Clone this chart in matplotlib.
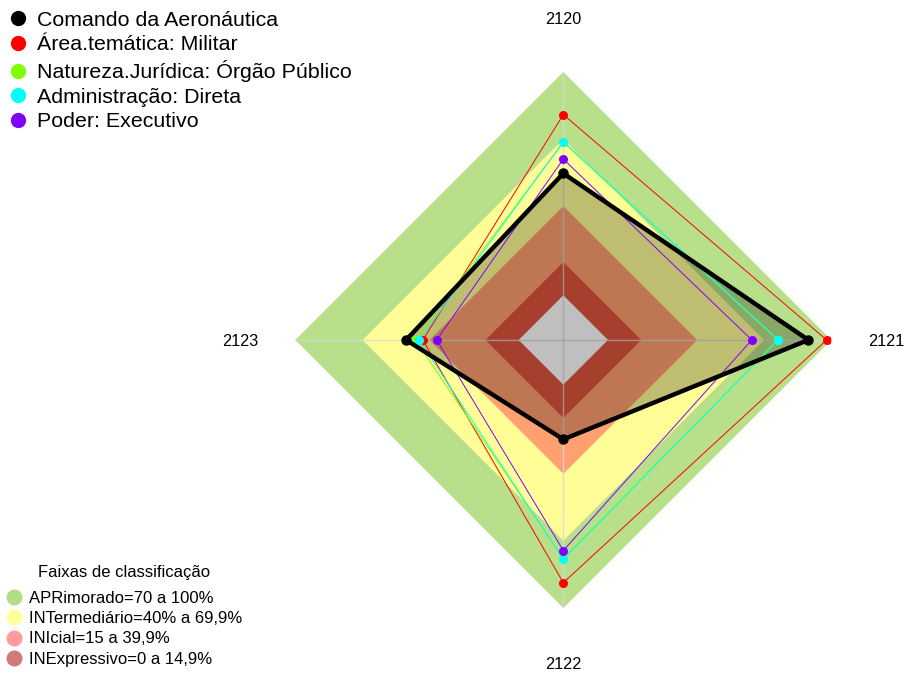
import numpy as np
import matplotlib.pyplot as plt
import matplotlib.transforms as mtransforms
from matplotlib.lines import Line2D

plt.rcParams['font.family'] = ['Liberation Sans', 'DejaVu Sans']

# axes of the radar (clockwise from top)
categories = ['2120', '2121', '2122', '2123']

series_names = ['Comando da Aeronáutica', 'Área.temática: Militar',
                'Natureza.Jurídica: Órgão Público', 'Administração: Direta',
                'Poder: Executivo']
comando = [54.6, 89.7, 24.5, 50.4]
militar = [80.9, 97.9, 88.7, 42.9]
orgao_publico = [68.5, 76.0, 77.8, 46.3]
direta = [68.8, 76.3, 78.2, 44.5]
executivo = [61.0, 64.4, 74.3, 36.7]
series_colors = ['black', '#FF0000', '#80FF00', '#00FFFF', '#8000FF']

# classification bands (upper limit of each band)
band_tops = [100, 69.9, 39.9, 14.9]
band_colors = ['#B8DF8A', '#FFFD96', '#FFA070', '#E05540']
band_legend_colors = ['#B5DC86', '#FFFF99', '#FF9B9B', '#D27A7A']
band_labels = ['APRimorado=70 a 100%', 'INTermediário=40% a 69,9%',
               'INIcial=15 a 39,9%', 'INExpressivo=0 a 14,9%']

r_min, r_max = -20, 100

fig = plt.figure(figsize=(9.05, 6.75), dpi=100)
ax = fig.add_axes([0.3263, 0.0993, 0.5923, 0.7941], projection='polar')
ax.set_theta_zero_location('N')
ax.set_theta_direction(-1)
ax.set_ylim(r_min, r_max)
ax.axis('off')

theta = np.linspace(0, 2 * np.pi, len(categories), endpoint=False)
theta_c = np.append(theta, theta[0])


def closed(vals):
    return list(vals) + [vals[0]]


for top, col in zip(band_tops, band_colors):
    ax.fill(theta_c, [top] * len(theta_c), color=col, lw=0, zorder=1)
ax.fill(theta_c, [0] * len(theta_c), color='white', lw=0, zorder=1)

for t in theta:
    ax.plot([t, t], [r_min, r_max], color='#d8d8d8', lw=1, alpha=0.8, zorder=2)

# Comando fill
ax.fill(theta_c, closed(comando), color='black', alpha=0.25, lw=0, zorder=3)

others = [militar, orgao_publico, direta, executivo]
for vals, col in zip(others, series_colors[1:]):
    ax.plot(theta_c, closed(vals), color=col, lw=0.7, zorder=4)
    ax.plot(theta, vals, 'o', color=col, ms=6.5, mec='none', zorder=5)

ax.plot(theta_c, closed(comando), color='black', lw=3.2, zorder=6)
ax.plot(theta, comando, 'o', color='black', ms=6.5, zorder=7)

lab_trans = mtransforms.offset_copy(ax.transData, fig=fig, x=0, y=-2, units='dots')
for t, lab in zip(theta, categories):
    ax.text(t, 124.5, lab, ha='center', va='center', fontsize=11.7,
            clip_on=False, transform=lab_trans)

# series legend
handles = [Line2D([], [], ls='none', marker='o', ms=11, color=c, mec='none')
           for c in series_colors]
fig.legend(handles, series_names, loc='upper left', bbox_to_anchor=(-0.009, 1.006),
           frameon=False, fontsize=15.4, handletextpad=0.41, labelspacing=0.26,
           handlelength=1.0, borderaxespad=0.3)

# bands legend
fig.text(124 / 905, 1 - 572 / 675, 'Faixas de classificação', ha='center',
         va='center', fontsize=12)
bh = [Line2D([], [], ls='none', marker='o', ms=11.5, color=c, mec='none')
      for c in band_legend_colors]
fig.legend(bh, band_labels, loc='lower left',
           bbox_to_anchor=(-0.0067, -0.005), frameon=False, fontsize=12,
           handletextpad=0.4, labelspacing=0.32,
           handlelength=1.0, borderaxespad=0.3)

fig.savefig('out.png', dpi=100)
